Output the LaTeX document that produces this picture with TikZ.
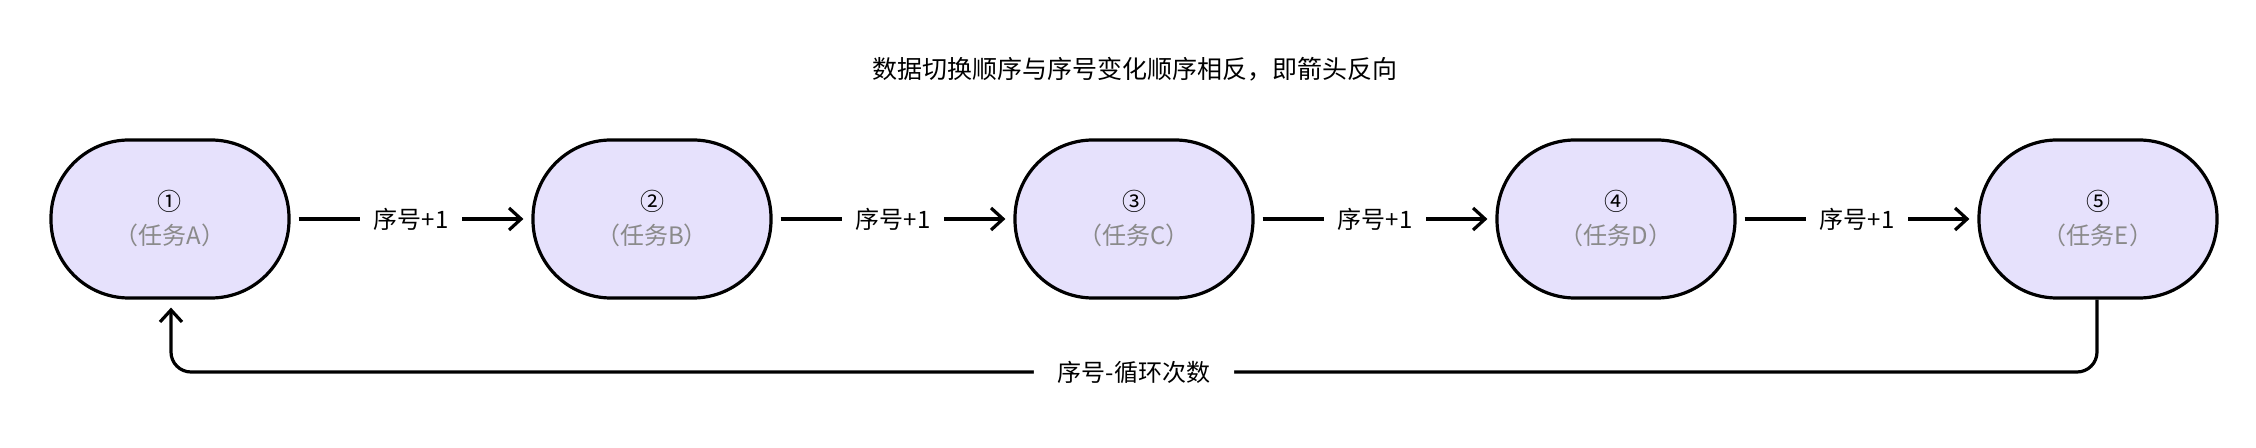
\documentclass[tikz,border=0pt]{standalone}
\usepackage{fontspec}
\setmainfont{Noto Sans CJK SC}
\usetikzlibrary{arrows.meta}
\definecolor{nodefill}{HTML}{E6E1FC}
\definecolor{subgray}{HTML}{8A8A8A}
\begin{document}
\begin{tikzpicture}[x=0.5pt,y=-0.5pt,
  task/.style={draw=black,line width=1.6pt,fill=nodefill,rounded corners=39pt,minimum width=119pt,minimum height=79pt,align=center,font=\fontsize{12}{17}\selectfont,inner sep=0pt},
  conn/.style={line width=1.6pt,-{Straight Barb[length=6pt,width=11pt]},shorten >=4pt,shorten <=4pt},
  lbl/.style={fill=white,font=\fontsize{12}{14}\selectfont,inner xsep=7pt}]
\useasboundingbox (0,0) rectangle (2256,448);
\node[font=\fontsize{12.5}{14}\selectfont] (title) at (1135,69) {数据切换顺序与序号变化顺序相反，即箭头反向};
\foreach \i/\n/\l in {0/a/A,1/b/B,2/c/C,3/d/D,4/e/E}{
  \node[task] (\n) at (170+\i*482,219) {};
}
\node[task,draw=none,fill=none] at (a) {\symbol{"2460}\\\textcolor{subgray}{（任务A）}};
\node[task,draw=none,fill=none] at (b) {\symbol{"2461}\\\textcolor{subgray}{（任务B）}};
\node[task,draw=none,fill=none] at (c) {\symbol{"2462}\\\textcolor{subgray}{（任务C）}};
\node[task,draw=none,fill=none] at (d) {\symbol{"2463}\\\textcolor{subgray}{（任务D）}};
\node[task,draw=none,fill=none] at (e) {\symbol{"2464}\\\textcolor{subgray}{（任务E）}};
\draw[conn] (a) -- node[lbl] {序号+1} (b);
\draw[conn] (b) -- node[lbl] {序号+1} (c);
\draw[conn] (c) -- node[lbl] {序号+1} (d);
\draw[conn] (d) -- node[lbl] {序号+1} (e);
\coordinate (r1) at (2097,372);
\coordinate (r2) at (171,372);
\draw[line width=1.6pt,rounded corners=10pt,-{Straight Barb[length=6pt,width=11pt]},shorten >=4pt]
  (e.south -| r1) -- (r1) -- node[lbl,pos=0.5,inner xsep=12pt] {序号-循环次数} (r2) -- (a.south -| r2);
\end{tikzpicture}
\end{document}
